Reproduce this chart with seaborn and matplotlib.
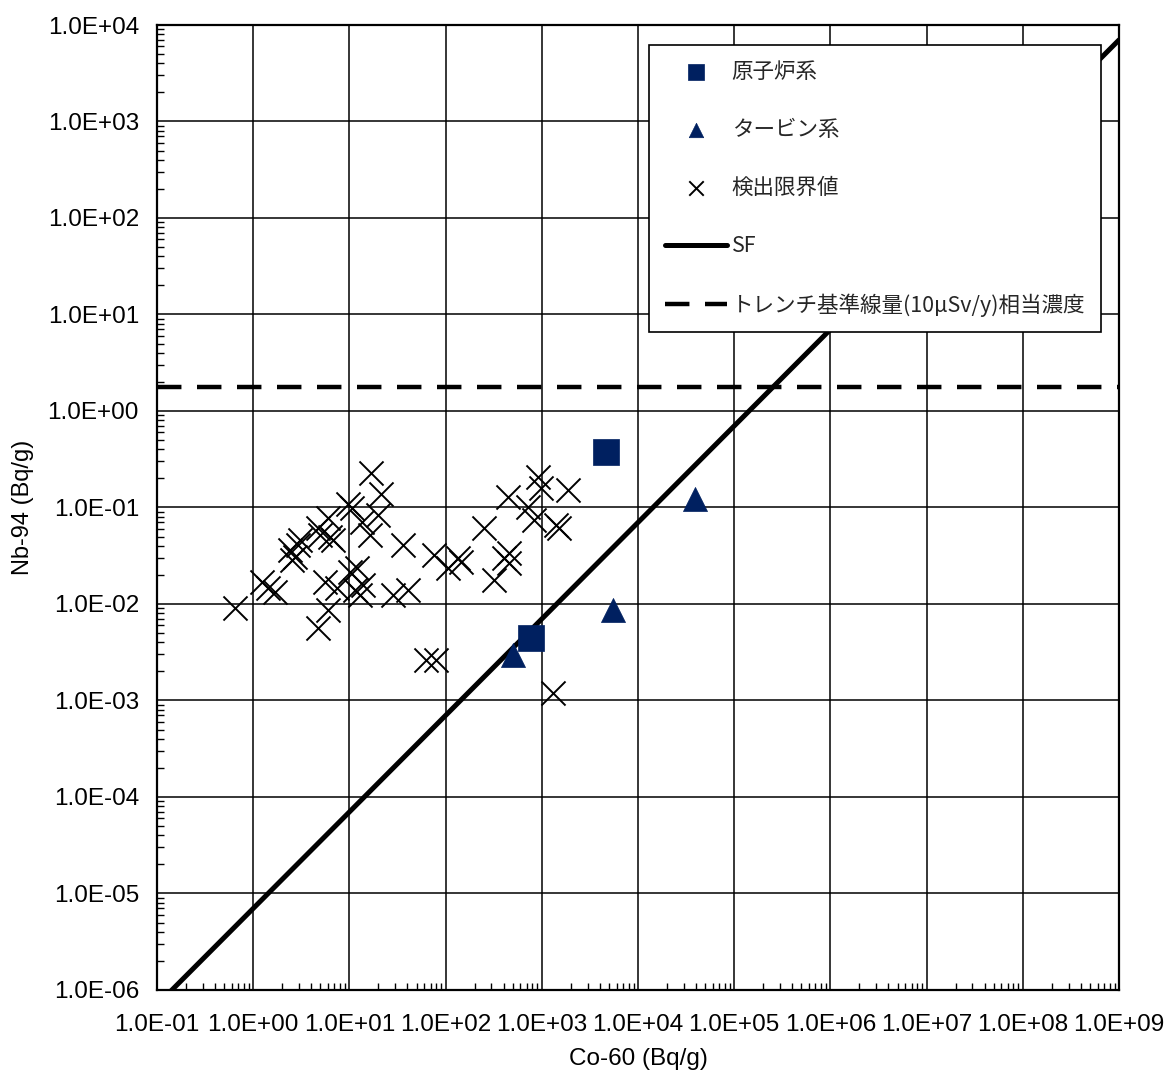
import numpy as np
import pandas as pd
import matplotlib
matplotlib.use("Agg")
import matplotlib.pyplot as plt
import seaborn as sns
from matplotlib.ticker import LogLocator, FixedLocator, FuncFormatter

# ---- data (Bq/g) ----
reactor_co = [4600, 770]
reactor_nb = [0.376, 4.45e-3]

turbine_co = [500, 5500, 39000]
turbine_nb = [2.96e-3, 8.7e-3, 0.122]

dl_co = [0.65, 1.24, 1.43, 1.69, 2.43, 2.74, 2.94, 3.09, 2.55, 4.75,
         4.99, 6.04, 5.62, 6.34, 6.04, 4.75, 6.8, 9.77, 10.7, 16.9,
         21.5, 13.6, 16.5, 19.6, 12.1, 10.2, 14.0, 13.0, 11.5, 7.5,
         36.5, 28.7, 40.2, 75, 105, 133, 143, 62, 78.7, 249,
         442, 909, 977, 1866, 714, 826, 1400, 1500, 453, 402,
         316, 453, 1300]
dl_nb = [9.1e-3, 1.69e-2, 1.47e-2, 1.33e-2, 3.63e-2, 3.07e-2, 4.08e-2, 4.6e-2, 2.86e-2, 6.1e-2,
         5.2e-2, 7.8e-2, 1.69e-2, 4.94e-2, 8.7e-3, 5.6e-3, 4.6e-2, 0.109, 9.9e-2, 0.228,
         0.138, 7.1e-2, 5.2e-2, 8.4e-2, 2.36e-2, 2.15e-2, 1.57e-2, 1.24e-2, 1.40e-2, 1.47e-2,
         4.08e-2, 1.24e-2, 1.40e-2, 3.22e-2, 2.36e-2, 3.0e-2, 2.72e-2, 2.63e-3, 2.63e-3, 6.1e-2,
         0.128, 0.207, 0.159, 0.152, 0.101, 7.4e-2, 6.6e-2, 6.1e-2, 3.37e-2, 3.0e-2,
         1.77e-2, 2.66e-2, 1.2e-3]

sf_ratio = 7.0e-6
line_co = [1e-1, 1e9]
sf_nb = [sf_ratio * c for c in line_co]
trench_level = 1.77
trench_nb = [trench_level, trench_level]

labels = ["原子炉系", "タービン系", "検出限界値", "SF", "トレンチ基準線量(10μSv/y)相当濃度"]
x_ticks = [10.0 ** k for k in range(-1, 10)]
y_ticks = [10.0 ** k for k in range(-6, 5)]
xlabel = "Co-60 (Bq/g)"
ylabel = "Nb-94 (Bq/g)"

navy = "#002060"

sns.set_theme(style="white")
plt.rcParams["font.family"] = ["Liberation Sans", "DejaVu Sans"]

fig = plt.figure(figsize=(11.66, 10.8), dpi=100)
ax = fig.add_axes([157 / 1166, 90 / 1080, 962 / 1166, 965 / 1080])
ax.set_xscale("log")
ax.set_yscale("log")

sns.lineplot(x=line_co, y=sf_nb, ax=ax, color="black", lw=3.6,
             label=labels[3], zorder=3)
sns.lineplot(x=line_co, y=trench_nb, ax=ax, color="black", lw=3.2,
             linestyle=(0, (5.5, 3.5)), label=labels[4], zorder=3)
sns.scatterplot(x=dl_co, y=dl_nb, ax=ax, marker="x", s=300, color="black",
                linewidth=1.4, label=labels[2], zorder=4)
sns.scatterplot(x=turbine_co, y=turbine_nb, ax=ax, marker="^", s=300, color=navy,
                edgecolor=navy, linewidth=0.5, label=labels[1], zorder=5)
sns.scatterplot(x=reactor_co, y=reactor_nb, ax=ax, marker="s", s=340, color=navy,
                edgecolor=navy, linewidth=0.5, label=labels[0], zorder=5)

ax.set_xlim(1e-1, 1e9)
ax.set_ylim(1e-6, 1e4)

fmt = FuncFormatter(lambda v, p: "{:.1E}".format(v))
ax.xaxis.set_major_locator(FixedLocator(x_ticks))
ax.yaxis.set_major_locator(FixedLocator(y_ticks))
ax.xaxis.set_major_formatter(fmt)
ax.yaxis.set_major_formatter(fmt)
ax.xaxis.set_minor_locator(LogLocator(base=10, subs=np.arange(2, 10), numticks=30))
ax.yaxis.set_minor_locator(LogLocator(base=10, subs=np.arange(2, 10), numticks=30))
ax.xaxis.set_minor_formatter(FuncFormatter(lambda v, p: ""))
ax.yaxis.set_minor_formatter(FuncFormatter(lambda v, p: ""))

ax.tick_params(axis="both", which="major", direction="in", length=0, labelsize=17.5,
               colors="black")
ax.tick_params(axis="x", which="major", pad=17)
ax.tick_params(axis="y", which="major", pad=13)
ax.tick_params(axis="both", which="minor", direction="in", length=5, width=1,
               color="black", bottom=True, left=True, top=False, right=False)

ax.grid(True, which="major", color="black", lw=1.1)
ax.set_axisbelow(True)
for s in ax.spines.values():
    s.set_color("black")
    s.set_linewidth(1.6)

ax.set_xlabel(xlabel, fontsize=17.5, labelpad=9, color="black")
ax.set_ylabel(ylabel, fontsize=17, labelpad=10, color="black")

handles, labs = ax.get_legend_handles_labels()
order = [labs.index(l) for l in labels]
leg = ax.legend([handles[i] for i in order], [labs[i] for i in order],
                loc="upper right", bbox_to_anchor=(0.981, 0.979), borderaxespad=0,
                prop={"family": ["Noto Sans CJK JP", "DejaVu Sans"], "size": 15.5},
                frameon=True, fancybox=False, framealpha=1, edgecolor="black",
                handlelength=2.9, handletextpad=0.2, labelspacing=1.68,
                borderpad=0.72, markerscale=0.6)
leg.get_frame().set_linewidth(1.2)

fig.savefig("out.png", dpi=100)
